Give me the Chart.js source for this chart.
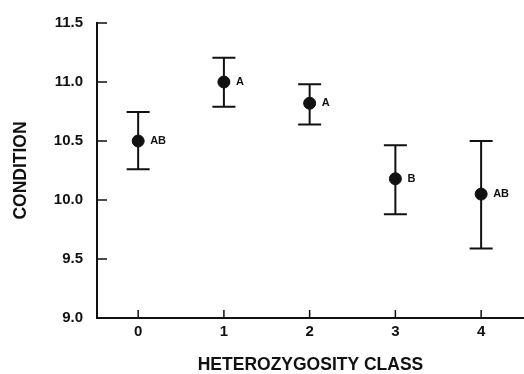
<!DOCTYPE html>
<html>
<head>
<meta charset="utf-8">
<script src="https://cdn.jsdelivr.net/npm/chart.js@4.4.1/dist/chart.umd.min.js"></script>
<style>
  html, body { margin: 0; padding: 0; background: #fff; }
  #wrap { width: 524px; height: 374px; position: relative; }
</style>
</head>
<body>
<div id="wrap"><canvas id="chart"></canvas></div>
<script>
// heterozygosity classes and condition means with error bar limits
const classes = [0, 1, 2, 3, 4]
const means = [10.50, 11.00, 10.82, 10.18, 10.05]
const lower = [10.26, 10.79, 10.64, 9.88, 9.59]
const upper = [10.745, 11.205, 10.98, 10.465, 10.50]
const groups = ["AB", "A", "A", "B", "AB"]
const yTicks = [9.0, 9.5, 10.0, 10.5, 11.0, 11.5]

const ink = "#111"
const tickFont = { family: "'Liberation Sans', Arial, sans-serif", size: 15, weight: "bold" }
const titleFont = { family: "'Liberation Sans', Arial, sans-serif", size: 17.5, weight: "bold" }

// the axis should run to the right edge, so the points must not reserve overflow room
Chart.ScatterController.prototype.getMaxOverflow = function () { return false }

// error bars, group letters and inward tick marks
const decorations = {
  id: "decorations",
  afterDatasetsDraw(chart) {
    const { ctx, scales: { x, y } } = chart
    ctx.save()
    ctx.strokeStyle = ink
    ctx.lineWidth = 2
    classes.forEach((c, i) => {
      const px = x.getPixelForValue(c)
      const top = y.getPixelForValue(upper[i])
      const bot = y.getPixelForValue(lower[i])
      ctx.beginPath()
      ctx.moveTo(px, top); ctx.lineTo(px, bot)
      ctx.moveTo(px - 11.5, top); ctx.lineTo(px + 11.5, top)
      ctx.moveTo(px - 11.5, bot); ctx.lineTo(px + 11.5, bot)
      ctx.stroke()
    })
    ctx.fillStyle = ink
    ctx.font = "bold 11px 'Liberation Sans', Arial, sans-serif"
    ctx.textBaseline = "middle"
    ctx.textAlign = "left"
    classes.forEach((c, i) => {
      ctx.fillText(groups[i], x.getPixelForValue(c) + 12, y.getPixelForValue(means[i]))
    })
    ctx.restore()
  },
  afterDraw(chart) {
    const { ctx, chartArea, scales: { x, y } } = chart
    ctx.save()
    ctx.strokeStyle = ink
    ctx.lineWidth = 1.5
    ctx.beginPath()
    yTicks.forEach(v => {
      const py = y.getPixelForValue(v)
      ctx.moveTo(chartArea.left, py); ctx.lineTo(chartArea.left + 10, py)
    })
    classes.forEach(c => {
      const px = x.getPixelForValue(c)
      ctx.moveTo(px, chartArea.bottom); ctx.lineTo(px, chartArea.bottom - 8)
    })
    ctx.stroke()
    ctx.restore()
  }
}

new Chart(document.getElementById("chart"), {
  type: "scatter",
  data: {
    datasets: [{
      data: classes.map((c, i) => ({ x: c, y: means[i] })),
      backgroundColor: ink,
      borderColor: ink,
      pointRadius: 6,
      pointHoverRadius: 6
    }]
  },
  options: {
    responsive: true,
    maintainAspectRatio: false,
    animation: false,
    layout: { padding: { top: 12, right: 0, bottom: 0, left: 0 } },
    plugins: {
      legend: { display: false },
      tooltip: { enabled: false }
    },
    scales: {
      x: {
        type: "linear",
        min: -0.48,
        max: 4.5,
        afterBuildTicks: (scale) => { scale.ticks = classes.map(v => ({ value: v })) },
        afterFit: (scale) => {
          scale.height = 56
          scale.paddingLeft = 0
          scale.paddingRight = 0
        },
        grid: { display: false, drawTicks: false },
        border: { display: true, color: ink, width: 2 },
        ticks: { color: ink, font: tickFont, padding: 5, maxRotation: 0 },
        title: { display: true, text: "HETEROZYGOSITY CLASS", color: ink, font: titleFont, padding: { top: 8, bottom: -2 } }
      },
      y: {
        min: 9.0,
        max: 11.5,
        afterBuildTicks: (scale) => { scale.ticks = yTicks.map(v => ({ value: v })) },
        afterFit: (scale) => { scale.width = 97 },
        grid: { display: false, drawTicks: false },
        border: { display: true, color: ink, width: 2 },
        ticks: { color: ink, font: tickFont, padding: 14, callback: (v) => v.toFixed(1) },
        title: { display: true, text: "CONDITION", color: ink, font: titleFont, padding: { top: 11, bottom: 0 } }
      }
    }
  },
  plugins: [decorations]
})
</script>
</body>
</html>
